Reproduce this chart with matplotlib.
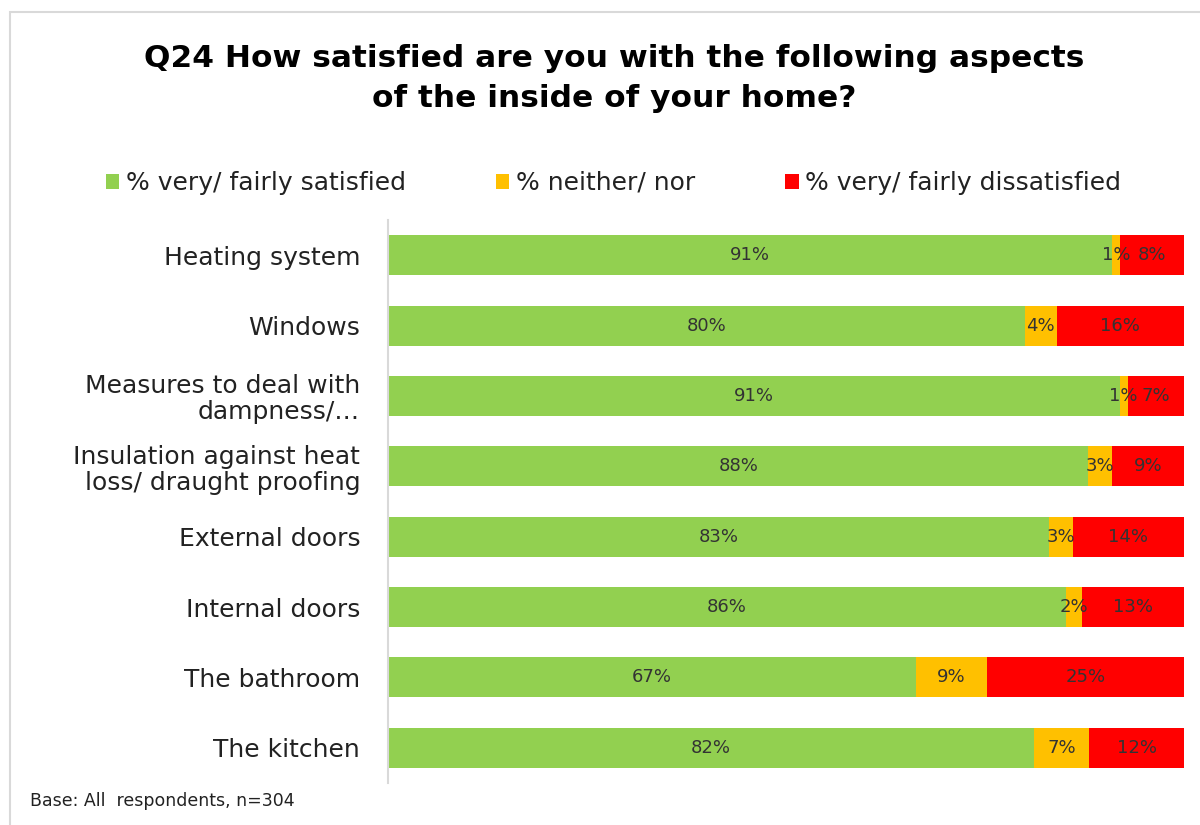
import numpy as np
import matplotlib
matplotlib.use('Agg')
import matplotlib.pyplot as plt
from matplotlib.patches import Patch, Rectangle

plt.rcParams['font.family'] = ['DejaVu Sans']

# Data
categories = ['Heating system', 'Windows', 'Measures to deal with\ndampness/\u2026',
              'Insulation against heat\nloss/ draught proofing', 'External doors',
              'Internal doors', 'The bathroom', 'The kitchen']
satisfied = [91, 80, 91, 88, 83, 86, 67, 82]
neither = [1, 4, 1, 3, 3, 2, 9, 7]
dissatisfied = [8, 16, 7, 9, 14, 13, 25, 12]
series_names = ['% very/ fairly satisfied', '% neither/ nor', '% very/ fairly dissatisfied']
colors = ['#92D050', '#FFC000', '#FF0000']

fig = plt.figure(figsize=(12, 8.25), dpi=100)

# light frame around the slide area
fig.patches.append(Rectangle((10 / 1200, -0.01), 1.02, 1 - 12 / 825 + 0.01,
                             transform=fig.transFigure, fill=False,
                             edgecolor='#d9d9d9', linewidth=1.5))

ax = fig.add_axes([388 / 1200, 1 - 783 / 825, (1184 - 388) / 1200, (783 - 220) / 825])

vals = np.array([satisfied, neither, dissatisfied], dtype=float)
totals = vals.sum(axis=0)
shares = vals / totals * 100  # bars are drawn as 100% stacked
y = np.arange(len(categories))

left = np.zeros(len(categories))
for i in range(3):
    ax.barh(y, shares[i], left=left, height=0.57, color=colors[i], edgecolor='none')
    for j in range(len(categories)):
        ax.text(left[j] + shares[i][j] / 2, y[j], f'{int(vals[i][j])}%',
                ha='center', va='center', fontsize=13, color='#333333')
    left += shares[i]

ax.set_xlim(0, 100)
ax.set_ylim(len(categories) - 0.5, -0.5)
ax.set_yticks(y)
ax.set_yticklabels(categories, fontsize=18, color='#222222', linespacing=1.1)
ax.tick_params(axis='y', length=0, pad=20)
ax.set_xticks([])
for s in ['top', 'right', 'bottom']:
    ax.spines[s].set_visible(False)
ax.spines['left'].set_color('#d9d9d9')
ax.spines['left'].set_linewidth(1.5)

fig.text(0.512, 0.905, 'Q24 How satisfied are you with the following aspects\nof the inside of your home?',
         ha='center', va='center', fontsize=22.5, fontweight='bold', linespacing=1.45)

handles = [Patch(facecolor=c, edgecolor='none') for c in colors]
fig.legend(handles, series_names, loc='center', bbox_to_anchor=(0.511, 1 - 183 / 825),
           ncol=3, frameon=False, fontsize=18, handlelength=0.55, handleheight=0.55,
           handletextpad=0.25, columnspacing=3.6, labelcolor='#222222')

fig.text(30 / 1200, 1 - 801 / 825, 'Base: All  respondents, n=304', fontsize=12.5,
         ha='left', va='center', color='#222222')

fig.savefig('out.png', dpi=100)
